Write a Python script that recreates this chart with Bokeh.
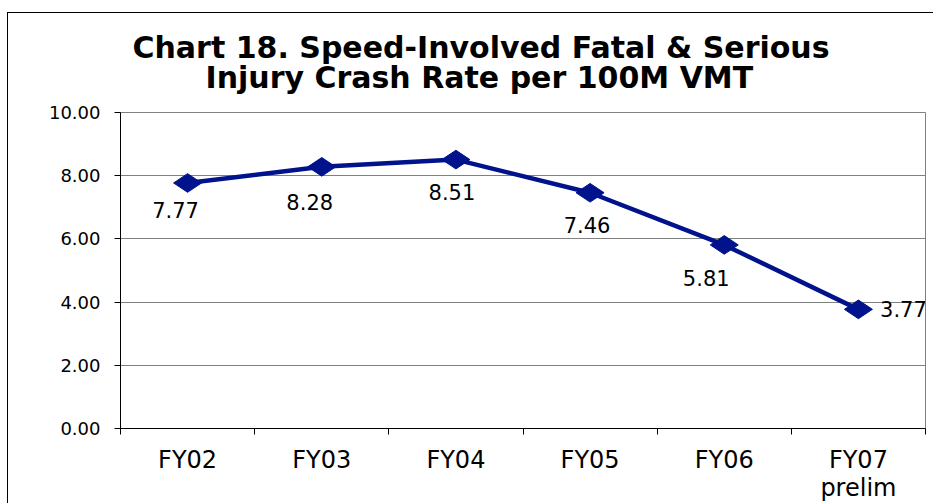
from bokeh.plotting import figure
from bokeh.models import (ColumnDataSource, Range1d, FixedTicker,
                          NumeralTickFormatter, LabelSet, Title)
from bokeh.core.properties import value
from bokeh.embed import file_html
from bokeh.resources import INLINE
import math

# ---- data ----
categories = ["FY02", "FY03", "FY04", "FY05", "FY06", "FY07\nprelim"]
rates = [7.77, 8.28, 8.51, 7.46, 5.81, 3.77]
rate_labels = ["7.77", "8.28", "8.51", "7.46", "5.81", "3.77"]
y_ticks = [0, 2, 4, 6, 8, 10]
title_lines = ["Chart 18. Speed-Involved Fatal & Serious",
               "Injury Crash Rate per 100M VMT"]

# ---- styles (label placement in pixels) ----
label_dx = [-12, -12, -4, -3, -18, 45]
label_dy = [-27, -35, -32, -32, -33, 0]

FONT = "DejaVu Sans"
NAVY = "#00128C"

n = len(categories)
xs = [i + 0.5 for i in range(n)]
src = ColumnDataSource(dict(x=xs, y=rates, txt=rate_labels, dx=label_dx, dy=label_dy))

p = figure(width=926, height=491, output_backend="svg", toolbar_location=None,
           x_range=Range1d(0, n), y_range=Range1d(0, 10),
           min_border_left=112, min_border_right=9, min_border_top=99,
           min_border_bottom=76, margin=(12, 0, 0, 7))
p.styles = {"border-top": "1px solid #000", "border-left": "1px solid #000"}

# titles: second line first (closest to the frame)
t2 = Title(text=title_lines[1], align="left", offset=85,
           text_font=FONT, text_font_size="30px", text_font_style="bold",
           text_color="black", standoff=36)
t1 = Title(text=title_lines[0], align="left", offset=12,
           text_font=FONT, text_font_size="30px", text_font_style="bold",
           text_color="black", standoff=-50)
p.add_layout(t2, "above")
p.add_layout(t1, "above")

p.outline_line_color = "#808080"
p.outline_line_width = 1
p.background_fill_color = "white"
p.border_fill_color = "white"

# y axis
p.yaxis.ticker = FixedTicker(ticks=y_ticks, minor_ticks=[])
p.yaxis.formatter = NumeralTickFormatter(format="0.00")
p.yaxis.axis_line_color = "black"
p.yaxis.major_tick_line_color = "black"
p.yaxis.major_tick_out = 6
p.yaxis.major_tick_in = 0
p.yaxis.minor_tick_line_color = None
p.yaxis.major_label_text_font = FONT
p.yaxis.major_label_text_font_size = "18px"
p.yaxis.major_label_text_color = "black"
p.yaxis.major_label_standoff = 14

# x axis: labels at category centres, ticks between categories
p.xaxis.ticker = FixedTicker(ticks=xs, minor_ticks=list(range(n + 1)))
p.xaxis.major_label_overrides = {x: c for x, c in zip(xs, categories)}
p.xaxis.axis_line_color = "black"
p.xaxis.major_tick_line_color = None
p.xaxis.major_tick_out = 0
p.xaxis.major_tick_in = 0
p.xaxis.minor_tick_line_color = "black"
p.xaxis.minor_tick_out = 6
p.xaxis.minor_tick_in = 0
p.xaxis.major_label_text_font = FONT
p.xaxis.major_label_text_font_size = "24px"
p.xaxis.major_label_text_line_height = 1.0
p.xaxis.major_label_text_color = "black"
p.xaxis.major_label_standoff = 11

p.xgrid.grid_line_color = None
p.ygrid.ticker = FixedTicker(ticks=y_ticks)
p.ygrid.grid_line_color = "#808080"
p.ygrid.grid_line_width = 1

p.line("x", "y", source=src, line_color=NAVY, line_width=4.5)
p.scatter("x", "y", source=src, marker="diamond", angle=math.pi / 2, size=28,
          fill_color=NAVY, line_color=NAVY)

labels = LabelSet(x="x", y="y", text="txt", source=src, x_offset="dx", y_offset="dy",
                  text_align="center", text_baseline="middle", text_font=value(FONT),
                  text_font_size="21px", text_color="black")
p.add_layout(labels)

open("out.html", "w").write(file_html(p, INLINE))
